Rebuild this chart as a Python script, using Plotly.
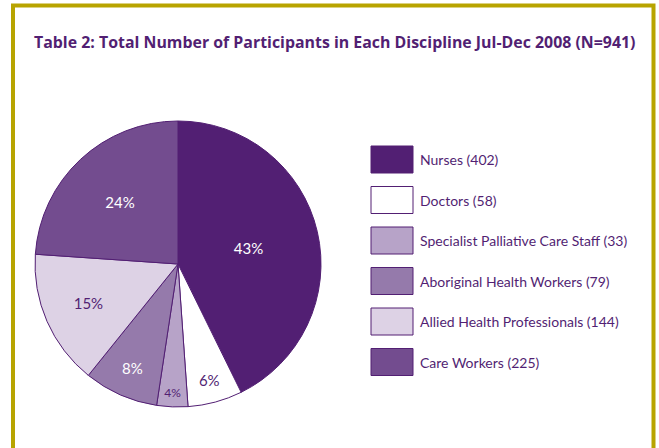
import plotly.graph_objects as go

categories = ["Nurses", "Doctors", "Specialist Palliative Care Staff",
              "Aboriginal Health Workers", "Allied Health Professionals", "Care Workers"]
counts = [402, 58, 33, 79, 144, 225]
colors = ["#521f73", "#ffffff", "#b7a3c8", "#957aab", "#ddd2e5", "#734c8f"]
text_colors = ["#ffffff", "#521f73", "#521f73", "#ffffff", "#521f73", "#ffffff"]
text_sizes = [15, 15, 12, 15, 15, 15]
title_text = "Table 2: Total Number of Participants in Each Discipline Jul-Dec 2008 (N=941)"

W, H = 659, 448
PURPLE = "#521f73"
FONT = "Lato"

# pie placement in pixels
cx, cy, r = 178, 264, 143

fig = go.Figure()
fig.add_trace(go.Pie(
    labels=categories,
    values=counts,
    sort=False,
    direction="clockwise",
    rotation=0,
    marker=dict(colors=colors, line=dict(color=PURPLE, width=1)),
    texttemplate="%{percent:.0%}",
    textposition="inside",
    insidetextorientation="horizontal",
    textfont=dict(color=text_colors, size=text_sizes, family=FONT),
    showlegend=False,
    hoverinfo="label+value+percent",
    domain=dict(x=[(cx - r) / W, (cx + r) / W],
                y=[(H - cy - r) / H, (H - cy + r) / H]),
))

shapes = []
annotations = []
# frame (olive border, open at bottom)
shapes.append(dict(type="path", xref="paper", yref="paper",
                   path=f"M {13/W} {-0.05} L {13/W} {1 - 5.5/H} L {653.5/W} {1 - 5.5/H} L {653.5/W} {-0.05}",
                   line=dict(color="#b8a400", width=4)))

# custom legend with large swatches
lx0, lx1, sw_h, top0, step = 371, 413, 27, 146, 40.5
for i, (cat, n, col) in enumerate(zip(categories, counts, colors)):
    y0 = top0 + i * step
    shapes.append(dict(type="rect", xref="paper", yref="paper",
                       x0=lx0 / W, x1=lx1 / W,
                       y0=1 - (y0 + sw_h) / H, y1=1 - y0 / H,
                       fillcolor=col, line=dict(color=PURPLE, width=1)))
    annotations.append(dict(xref="paper", yref="paper", x=418 / W, y=1 - (y0 + sw_h / 2) / H,
                            xanchor="left", yanchor="middle", showarrow=False,
                            text=f"{cat} ({n})",
                            font=dict(family=FONT, size=14, color=PURPLE)))

annotations.append(dict(xref="paper", yref="paper", x=334.5 / W, y=1 - 42 / H,
                        xanchor="center", yanchor="middle", showarrow=False,
                        text=f"<b>{title_text}</b>",
                        font=dict(family="Open Sans", size=15.9, color=PURPLE)))

fig.update_layout(
    width=W, height=H,
    margin=dict(l=0, r=0, t=0, b=0),
    paper_bgcolor="white",
    plot_bgcolor="white",
    shapes=shapes,
    annotations=annotations,
)

fig.write_html("out.html")
